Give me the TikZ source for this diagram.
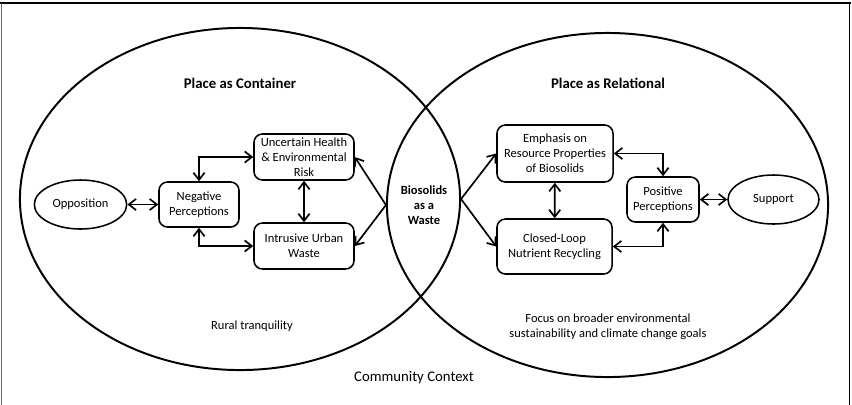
\documentclass[tikz,border=0pt]{standalone}
\usepackage{fontspec}
\setmainfont{Carlito}
\usetikzlibrary{
    arrows.meta,
    shapes.geometric
}

\begin{document}
\begin{tikzpicture}[
    x=0.025cm, y=-0.025cm,
    font=\fontsize{8.9}{10.7}\selectfont,
    region/.style={
        ellipse,
        draw=black,
        line width=1.4pt,
        inner sep=0pt
    },
    stance/.style={
        ellipse,
        draw=black,
        line width=1.1pt,
        align=center,
        minimum width=2.275cm,
        minimum height=1.225cm
    },
    factor/.style={
        rectangle,
        rounded corners=6pt,
        draw=black,
        line width=1.1pt,
        align=center,
        inner sep=0pt
    },
    heading/.style={
        font=\fontsize{10.5}{12.6}\selectfont\bfseries
    },
    note/.style={
        align=center
    },
    arrow/.style={
        {Straight Barb[length=1.8mm,width=2.8mm]}-{Straight Barb[length=1.8mm,width=2.8mm]},
        line width=1.2pt
    },
    oneway/.style={
        -{Straight Barb[length=1.8mm,width=2.8mm]},
        line width=1.2pt
    }
]
\useasboundingbox (0,0) rectangle (852,404);

% =========================================================
% Frame (open at the bottom) and the two place framings
% =========================================================
\draw[line width=1.6pt] (0,3) -- (851,3);
\draw[line width=0.5pt, draw=black!60] (1,3) -- (1,410);
\draw[line width=1pt] (849.5,3) -- (849.5,410);

\node[region, minimum width=11cm, minimum height=8.55cm] (container) at (240,199) {};
\node[region, minimum width=11.025cm, minimum height=8.6cm] (relational) at (607.5,205) {};

\node[heading] (containertitle) at (240,83) {Place as Container};
\node[heading] (relationaltitle) at (608,83) {Place as Relational};

% =========================================================
% Place as container
% =========================================================
\node[stance] (opposition) at (80.5,204.5) {Opposition};

\node[factor, minimum width=2cm, minimum height=1.125cm] (negative) at (199,204.5)
{Negative\\Perceptions};

\node[factor, minimum width=2.5cm, minimum height=1.15cm] (uncertain) at (304,157)
{Uncertain Health\\\& Environmental\\Risk};

\node[factor, minimum width=2.5cm, minimum height=1.15cm] (intrusive) at (304,246)
{Intrusive Urban\\Waste};

% =========================================================
% Overlap
% =========================================================
\node[note, font=\fontsize{8.9}{10.7}\selectfont\bfseries] (biosolids) at (424,205)
{Biosolids\\as a\\Waste};

% =========================================================
% Place as relational
% =========================================================
\node[factor, minimum width=2.9cm, minimum height=1.425cm] (emphasis) at (555,153.5)
{Emphasis on\\Resource Properties\\of Biosolids};

\node[factor, minimum width=2.875cm, minimum height=1.375cm] (closedloop) at (554.5,246.5)
{Closed-Loop\\Nutrient Recycling};

\node[factor, minimum width=1.8cm, minimum height=1.125cm] (positive) at (663,199.5)
{Positive\\Perceptions};

\node[stance] (support) at (773.5,199.5) {Support};

% =========================================================
% Context notes
% =========================================================
\node[note] (rural) at (252,326) {Rural tranquility};
\node[note] (focus) at (608,326.5)
{Focus on broader environmental\\sustainability and climate change goals};
\node[note, font=\fontsize{10.5}{12.6}\selectfont] (community) at (414,378) {Community Context};

% =========================================================
% Arrows, container side
% =========================================================
\draw[arrow] (opposition) -- (negative);
\draw[arrow] (negative.north) |- (uncertain.west);
\draw[arrow] (negative.south) |- (intrusive.west);
\draw[arrow] (uncertain) -- (intrusive);

\draw[oneway] (relational.west) -- (uncertain.east);
\draw[oneway] (relational.west) -- (intrusive.east);

% =========================================================
% Arrows, relational side
% =========================================================
\draw[oneway] (container.east) -- (emphasis.west);
\draw[oneway] (container.east) -- (closedloop.west);

\draw[arrow] (emphasis) -- (closedloop);
\draw[arrow] (emphasis.east) -| (positive.north);
\draw[arrow] (closedloop.east) -| (positive.south);
\draw[arrow] (positive) -- (support);

\end{tikzpicture}
\end{document}
